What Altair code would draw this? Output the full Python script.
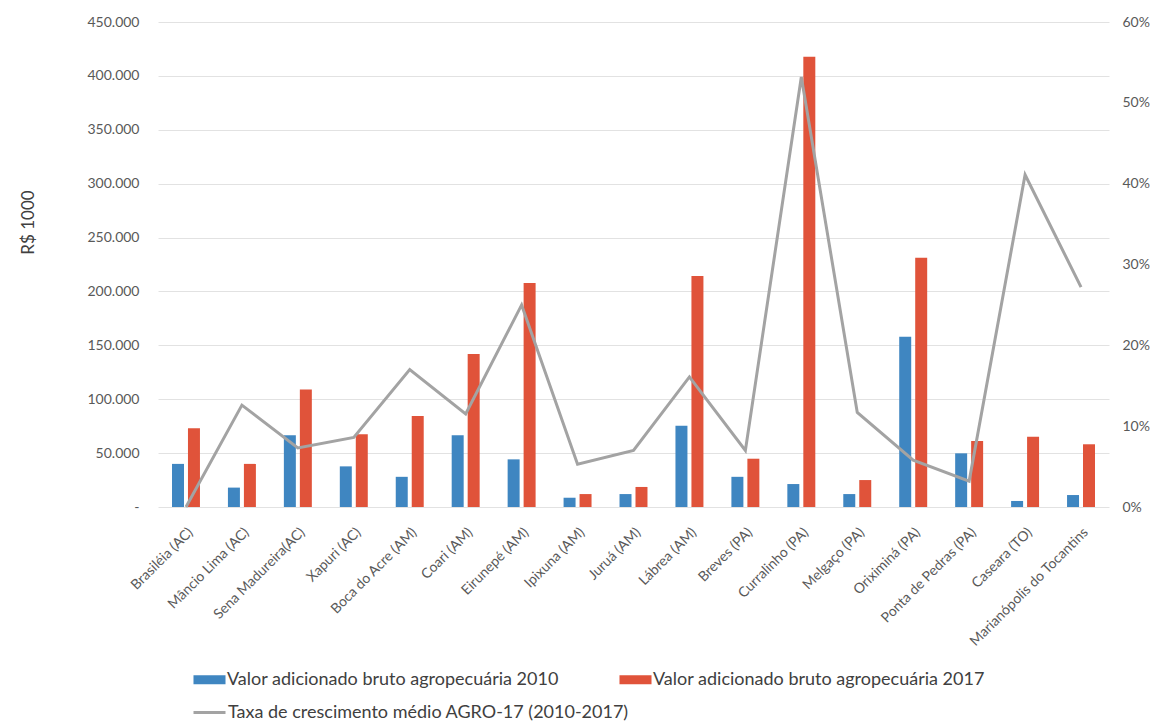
import altair as alt
import pandas as pd

# Municipalities (x categories)
cities = [
    "Brasiléia (AC)", "Mâncio Lima (AC)", "Sena Madureira(AC)", "Xapuri (AC)",
    "Boca do Acre (AM)", "Coari (AM)", "Eirunepé (AM)", "Ipixuna (AM)",
    "Juruá (AM)", "Lábrea (AM)", "Breves (PA)", "Curralinho (PA)",
    "Melgaço (PA)", "Oriximiná (PA)", "Ponta de Pedras (PA)", "Caseara (TO)",
    "Marianópolis do Tocantins",
]

# Gross value added by agriculture (R$ 1000)
vab_2010 = [40000, 18000, 66500, 37700, 28000, 66500, 44200, 8600, 12000,
            75400, 28000, 21300, 12000, 158000, 49800, 5600, 11100]
vab_2017 = [73000, 40000, 109000, 67400, 84400, 142000, 207800, 12000, 18600,
            214300, 44800, 417800, 25000, 231300, 61200, 65200, 58200]

# Average growth rate 2010-2017
growth = [0.000, 0.126, 0.073, 0.086, 0.170, 0.115, 0.250, 0.053, 0.070,
          0.161, 0.070, 0.532, 0.117, 0.058, 0.032, 0.411, 0.272]

s2010 = "Valor adicionado bruto agropecuária 2010"
s2017 = "Valor adicionado bruto agropecuária 2017"
s_rate = "Taxa de crescimento médio AGRO-17 (2010-2017)"

bars_df = pd.DataFrame(
    {"cidade": cities * 2,
     "serie": [s2010] * len(cities) + [s2017] * len(cities),
     "valor": vab_2010 + vab_2017}
)
line_df = pd.DataFrame({"cidade": cities, "serie": [s_rate] * len(cities), "taxa": growth})

FONT = "Lato"
TXT = "#595959"

x_enc = alt.X(
    "cidade:N", sort=cities, title=None,
    scale=alt.Scale(paddingInner=0.5, paddingOuter=0.25),
    axis=alt.Axis(labelAngle=-45, labelAlign="right", labelBaseline="top",
                  labelPadding=18, labelFontSize=14, labelColor=TXT,
                  ticks=False, domain=False, labelLimit=300),
)

bars = alt.Chart(bars_df).mark_bar().encode(
    x=x_enc,
    xOffset=alt.XOffset("serie:N", sort=[s2010, s2017],
                        scale=alt.Scale(paddingInner=0.25, paddingOuter=0)),
    y=alt.Y(
        "valor:Q", title="R$ 1000",
        scale=alt.Scale(domain=[0, 450000], nice=False),
        axis=alt.Axis(
            values=list(range(0, 450001, 50000)),
            labelExpr="datum.value == 0 ? '-' : replace(format(datum.value, ',d'), ',', '.')",
            labelFontSize=14, labelColor=TXT, labelPadding=19,
            ticks=False, domain=False, grid=True, gridColor="#E2E2E2",
            titleAngle=-90, titleX=-130, titleY=200, titleAlign="center",
            titleBaseline="middle", titleFontSize=17, titleFontWeight="normal",
            titleColor="#404040",
        ),
    ),
    color=alt.Color(
        "serie:N", sort=[s2010, s2017],
        scale=alt.Scale(domain=[s2010, s2017], range=["#3F86C1", "#E0533A"]),
        legend=alt.Legend(
            title=None, orient="none", legendX=42, legendY=648, columns=2,
            columnPadding=60, symbolType="M-1.75,-0.5H1.75V0.5H-1.75Z",
            symbolSize=335, symbolStrokeWidth=0, labelOffset=8,
            labelFontSize=18, labelColor="#404040", labelLimit=500, padding=0,
        ),
    ),
)

line = alt.Chart(line_df).mark_line(strokeWidth=3).encode(
    x=x_enc,
    y=alt.Y(
        "taxa:Q", title=None,
        scale=alt.Scale(domain=[0, 0.6], nice=False),
        axis=alt.Axis(orient="right", format=".0%",
                      values=[0, 0.1, 0.2, 0.3, 0.4, 0.5, 0.6],
                      labelFontSize=14, labelColor=TXT, labelPadding=13,
                      ticks=False, domain=False, grid=False),
    ),
    stroke=alt.Stroke(
        "serie:N",
        scale=alt.Scale(domain=[s_rate], range=["#A3A3A3"]),
        legend=alt.Legend(
            title=None, orient="none", legendX=34, legendY=673,
            symbolType="stroke", symbolSize=1024, symbolStrokeWidth=3,
            labelOffset=1, labelFontSize=18, labelColor="#404040",
            labelLimit=500, padding=0,
        ),
    ),
)

chart = (
    alt.layer(bars, line)
    .resolve_scale(y="independent", color="independent")
    .properties(
        width=951, height=485,
        autosize=alt.AutoSizeParams(type="none"),
        padding={"left": 158, "top": 22, "right": 41, "bottom": 215},
    )
    .configure(font=FONT)
    .configure_view(stroke=None)
)

chart.save("out.html", embed_options={"renderer": "svg", "actions": False})
